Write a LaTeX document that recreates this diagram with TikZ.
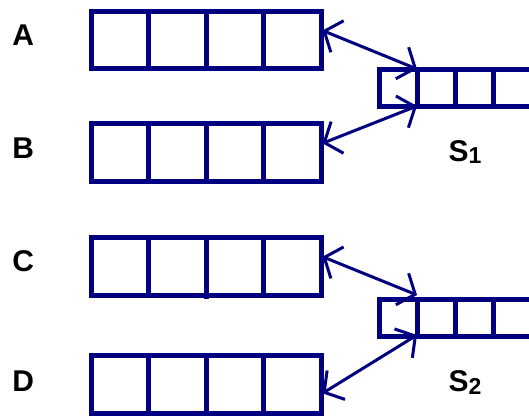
\documentclass[tikz,border=0pt]{standalone}
\usepackage{fontspec}
\setmainfont{Liberation Sans}
\usetikzlibrary{arrows.meta}
\definecolor{navy}{RGB}{0,0,128}
\begin{document}
\begin{tikzpicture}[x=1pt,y=-1pt,
  cellbox/.style={draw=navy, line width=5pt, inner sep=0pt, outer sep=0pt,
    minimum width=230pt, minimum height=57.5pt},
  slotbox/.style={draw=navy, line width=5pt, inner sep=0pt, outer sep=0pt,
    minimum width=190pt, minimum height=37pt},
  divider/.style={navy, line width=5pt},
  barb/.tip={Straight Barb[length=14pt,width=34pt]},
  link/.style={navy, line width=3pt, barb-barb},
  lbl/.style={font=\fontsize{30}{30}\selectfont\bfseries, anchor=base, inner sep=0pt}]
\useasboundingbox (0,0) rectangle (529,415);
\clip (0,0) rectangle (529,415);

% four-cell arrays
\node[cellbox] (A) at (206,39.75) {};
\node[cellbox] (B) at (206,152.5) {};
\node[cellbox] (C) at (206,266.5) {};
\node[cellbox] (D) at (206,384.5) {};
\foreach \n in {A,B,D}
  \foreach \k in {1,2,3}
    \draw[divider] ([xshift=57.5*\k pt]\n.north west) -- ([xshift=57.5*\k pt]\n.south west);
\draw[divider] ([xshift=57.5pt]C.north west) -- ([xshift=57.5pt]C.south west);
\draw[divider] ([yshift=-2pt]C.north) -- ([yshift=-4pt]C.south);
\draw[divider] ([xshift=172.5pt]C.north west) -- ([xshift=172.5pt]C.south west);

% shared arrays, running off to the right
\node[slotbox] (S1) at (474,87.5) {};
\node[slotbox] (S2) at (474,317.5) {};
\foreach \n in {S1,S2}
  \foreach \k in {1,2,3,4}
    \draw[divider] ([xshift=38*\k pt]\n.north west) -- ([xshift=38*\k pt]\n.south west);

% links
\draw[link] ([xshift=1.5pt,yshift=9.25pt]A.east) -- ([xshift=38pt]S1.north west);
\draw[link] ([xshift=1.5pt,yshift=9.2pt]B.east) -- ([xshift=38pt]S1.south west);
\draw[link] ([xshift=1.5pt,yshift=9.8pt]C.east) -- ([xshift=38pt,yshift=4pt]S2.north west);
\draw[link] ([xshift=1.5pt,yshift=-8.8pt]D.east) -- ([xshift=38pt,yshift=1pt]S2.south west);

% labels
\node[lbl] (la) at (23.3,45) {A};
\node[lbl] (lb) at (23.3,158.3) {B};
\node[lbl] (lc) at (23.3,271.2) {C};
\node[lbl] (ld) at (23.3,391.7) {D};
\node[lbl, anchor=base west] (ls1) at (448.5,161.5) {S\raisebox{-2pt}{\fontsize{23}{23}\selectfont 1}};
\node[lbl, anchor=base west] (ls2) at (448.5,391.3) {S\raisebox{-3pt}{\fontsize{23}{23}\selectfont 2}};
\end{tikzpicture}
\end{document}
